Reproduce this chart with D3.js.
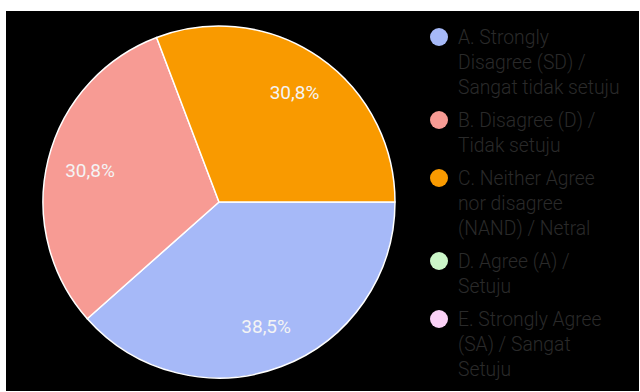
<!DOCTYPE html>
<html>
<head>
<meta charset="utf-8">
<script src="https://cdn.jsdelivr.net/npm/d3@7"></script>
<style>
  html, body { margin: 0; padding: 0; background: #ffffff; }
  svg { display: block; }
  text { font-family: Roboto, "Noto Sans", sans-serif; }
</style>
</head>
<body>
<svg id="chart" width="640" height="392"></svg>
<script>
// Survey responses: share of answers per option
const categories = [
  ["A. Strongly", "Disagree (SD) /", "Sangat tidak setuju"],
  ["B. Disagree (D) /", "Tidak setuju"],
  ["C. Neither Agree", "nor disagree", "(NAND) / Netral"],
  ["D. Agree (A) /", "Setuju"],
  ["E. Strongly Agree", "(SA) / Sangat", "Setuju"]
];
const values = [38.5, 30.8, 30.8, 0, 0];
const percentLabels = ["38,5%", "30,8%", "30,8%", "", ""];
const colors = ["#a6b9f8", "#f79b94", "#f99a00", "#cbf6c8", "#fad1f6"];

const svg = d3.select("#chart");

// dark panel
svg.append("rect")
  .attr("x", 6).attr("y", 11)
  .attr("width", 633).attr("height", 380)
  .attr("fill", "#000000");

const cx = 219, cy = 202, radius = 176;

const pie = d3.pie()
  .value(d => d)
  .sort(null)
  .startAngle(Math.PI / 2)
  .endAngle(Math.PI / 2 + 2 * Math.PI);

const arcs = pie(values);
const arc = d3.arc().innerRadius(0).outerRadius(radius);
const labelR = radius * 0.755;
const labelArc = d3.arc().innerRadius(labelR).outerRadius(labelR);

const g = svg.append("g").attr("transform", `translate(${cx},${cy})`);

g.selectAll("path.slice")
  .data(arcs.filter(a => a.value > 0))
  .join("path")
  .attr("class", "slice")
  .attr("d", arc)
  .attr("fill", d => colors[d.index])
  .attr("stroke", "#ffffff")
  .attr("stroke-width", 1.5)
  .attr("stroke-linejoin", "round");

g.selectAll("text.pct")
  .data(arcs.filter(a => a.value > 0))
  .join("text")
  .attr("class", "pct")
  .attr("transform", d => `translate(${labelArc.centroid(d)})`)
  .attr("text-anchor", "middle")
  .attr("dy", "0.35em")
  .attr("font-size", 19)
  .attr("fill", "#f4f4f4")
  .text(d => percentLabels[d.index]);

// legend
const legend = svg.append("g");
const lineH = 25, itemGap = 33;
let baseY = 44;
categories.forEach((lines, i) => {
  const item = legend.append("g");
  item.append("circle")
    .attr("cx", 439).attr("cy", baseY - 7)
    .attr("r", 9)
    .attr("fill", colors[i]);
  lines.forEach((t, j) => {
    item.append("text")
      .attr("x", 458)
      .attr("y", baseY + j * lineH)
      .attr("font-size", 19.3)
      .attr("font-weight", 300)
      .attr("fill", "#2a2a2a")
      .text(t);
  });
  baseY += (lines.length - 1) * lineH + itemGap;
});
</script>
</body>
</html>
